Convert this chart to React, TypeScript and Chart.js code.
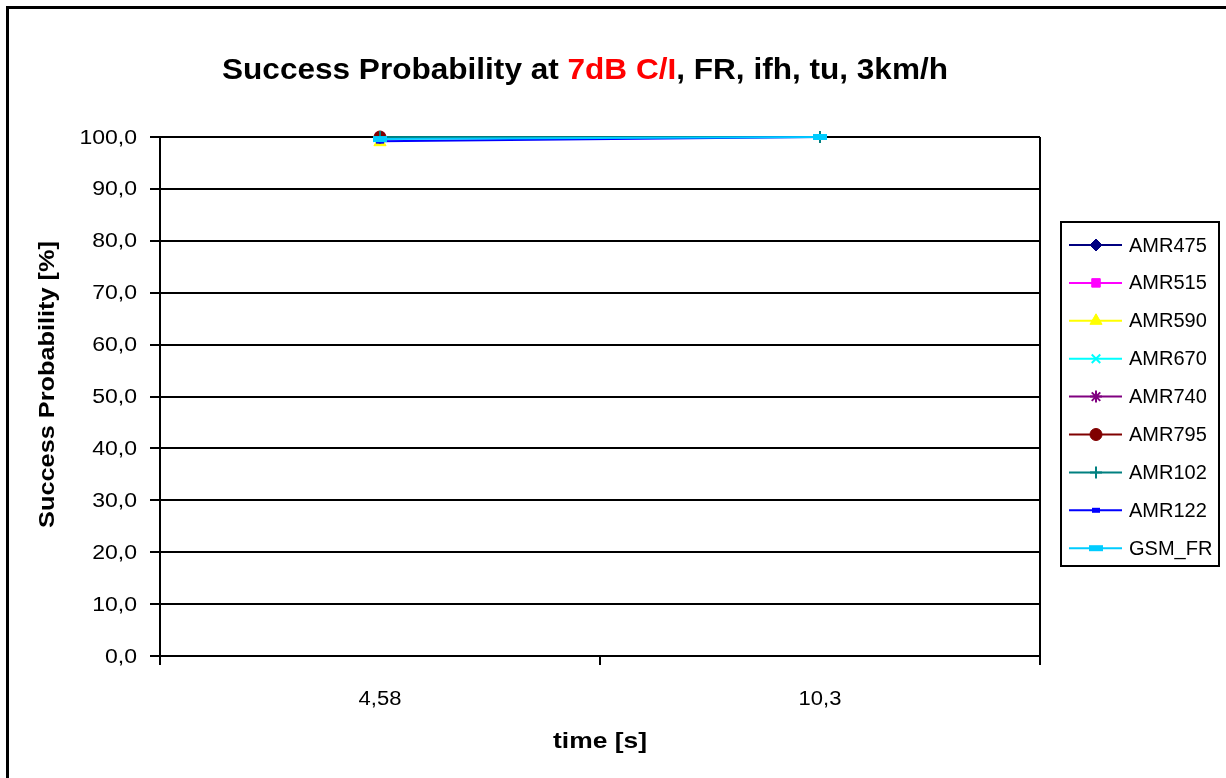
import React, { useEffect, useRef } from "react";
import { Chart, registerables } from "chart.js";
import { drawPoint } from "chart.js/helpers";

Chart.register(...registerables);

const categories = ["4,58", "10,3"];
const seriesNames = ["AMR475", "AMR515", "AMR590", "AMR670", "AMR740", "AMR795", "AMR102", "AMR122", "GSM_FR"];
const amr475 = [100.0, null];
const amr515 = [100.0, null];
const amr590 = [99.0, null];
const amr670 = [99.8, null];
const amr740 = [99.9, null];
const amr795 = [100.0, null];
const amr102 = [100.0, 100.0];
const amr122 = [99.2, 100.0];
const gsmFr = [99.6, 100.0];
const seriesValues = [amr475, amr515, amr590, amr670, amr740, amr795, amr102, amr122, gsmFr];
const yTicks = [0, 10, 20, 30, 40, 50, 60, 70, 80, 90, 100];

const titleParts = [
  { text: "Success Probability at ", color: "#000000" },
  { text: "7dB C/I", color: "#FF0000" },
  { text: ", FR, ifh, tu, 3km/h", color: "#000000" },
];
const yTitle = "Success Probability [%]";
const xTitle = "time [s]";

const styles = [
  { color: "#000080", pointStyle: "rectRot", radius: 6, bw: 1 },
  { color: "#FF00FF", pointStyle: "rect", radius: 6, bw: 1 },
  { color: "#FFFF00", pointStyle: "triangle", radius: 7, bw: 1 },
  { color: "#00FFFF", pointStyle: "crossRot", radius: 6, bw: 2 },
  { color: "#800080", pointStyle: "star", radius: 6, bw: 2 },
  { color: "#800000", pointStyle: "circle", radius: 6, bw: 1 },
  { color: "#008080", pointStyle: "cross", radius: 6, bw: 2 },
  { color: "#0000FF", pointStyle: "line", radius: 4, bw: 5 },
  { color: "#00CCFF", pointStyle: "line", radius: 7, bw: 6 },
];

const FONT = "'Liberation Sans', Arial, sans-serif";

function scaledText(ctx: any, text: string, x: number, y: number, align: string, sx: number) {
  const w = ctx.measureText(text).width * sx;
  let left = x;
  if (align === "center") left = x - w / 2;
  else if (align === "right") left = x - w;
  ctx.save();
  ctx.textAlign = "left";
  ctx.translate(left, y);
  ctx.scale(sx, 1);
  ctx.fillText(text, 0, 0);
  ctx.restore();
}

const decorPlugin = {
  id: "decor",
  beforeDraw(chart: any) {
    const ctx = chart.ctx;
    ctx.save();
    ctx.fillStyle = "#ffffff";
    ctx.fillRect(0, 0, chart.width, chart.height);
    ctx.strokeStyle = "#000000";
    ctx.lineWidth = 3;
    ctx.strokeRect(7.5, 7.5, chart.width + 20, chart.height + 20);
    ctx.restore();
  },
  afterDraw(chart: any) {
    const ctx = chart.ctx;
    const area = chart.chartArea;
    const xs = chart.scales.x;
    const ys = chart.scales.y;
    ctx.save();
    // right border of plot area
    ctx.strokeStyle = "#000000";
    ctx.lineWidth = 2;
    ctx.beginPath();
    ctx.moveTo(area.right, area.top);
    ctx.lineTo(area.right, area.bottom);
    ctx.stroke();

    // tick labels
    ctx.fillStyle = "#000000";
    ctx.font = `20px ${FONT}`;
    ctx.textBaseline = "middle";
    ys.ticks.forEach((t: any) => {
      const label = Number(t.value).toFixed(1).replace(".", ",");
      scaledText(ctx, label, 137, ys.getPixelForValue(t.value) + 1, "right", 1.15);
    });
    categories.forEach((c, i) => {
      scaledText(ctx, c, xs.getPixelForValue(i), 699, "center", 1.1);
    });

    // title with mixed colours
    ctx.font = `bold 30px ${FONT}`;
    ctx.textBaseline = "alphabetic";
    ctx.textAlign = "left";
    const widths = titleParts.map((p) => ctx.measureText(p.text).width);
    const total = widths.reduce((a, b) => a + b, 0);
    const target = 726;
    const sx = target / total;
    ctx.save();
    ctx.translate(585 - target / 2, 79);
    ctx.scale(sx, 1);
    let x = 0;
    titleParts.forEach((p, i) => {
      ctx.fillStyle = p.color;
      ctx.fillText(p.text, x, 0);
      x += widths[i];
    });
    ctx.restore();

    // axis titles
    ctx.fillStyle = "#000000";
    ctx.font = `bold 22px ${FONT}`;
    ctx.textBaseline = "middle";
    scaledText(ctx, xTitle, (area.left + area.right) / 2, 742, "center", 1.2);
    ctx.save();
    ctx.translate(48, (area.top + area.bottom) / 2 - 12);
    ctx.rotate(-Math.PI / 2);
    scaledText(ctx, yTitle, 0, 0, "center", 1.15);
    ctx.restore();

    // legend
    const lx = 1061, ly = 222, lw = 158, lh = 344;
    ctx.strokeStyle = "#000000";
    ctx.lineWidth = 2;
    ctx.strokeRect(lx, ly, lw, lh);
    ctx.font = `20px ${FONT}`;
    ctx.textAlign = "left";
    ctx.textBaseline = "middle";
    seriesNames.forEach((name, i) => {
      const st = styles[i];
      const cy = 245 + i * 37.9;
      ctx.strokeStyle = st.color;
      ctx.lineWidth = 2;
      ctx.beginPath();
      ctx.moveTo(1069, cy);
      ctx.lineTo(1122, cy);
      ctx.stroke();
      ctx.fillStyle = st.color;
      ctx.strokeStyle = st.color;
      ctx.lineWidth = st.bw;
      drawPoint(ctx, { pointStyle: st.pointStyle, radius: st.radius, rotation: 0, borderWidth: st.bw } as any, 1096, cy);
      ctx.fillStyle = "#000000";
      scaledText(ctx, name, 1129, cy + 1, "left", 1.0);
    });
    ctx.restore();
  },
};

export default function App() {
  const ref = useRef<HTMLCanvasElement>(null);
  useEffect(() => {
    if (!ref.current) return;
    const datasets = seriesNames.map((name, i) => {
      const st = styles[i];
      return {
        label: name,
        data: seriesValues[i],
        borderColor: st.color,
        backgroundColor: st.color,
        borderWidth: 2,
        pointStyle: st.pointStyle,
        pointRadius: st.radius,
        pointBorderWidth: st.bw,
        pointBackgroundColor: st.color,
        pointBorderColor: st.color,
        spanGaps: false,
        tension: 0,
        clip: false,
        order: seriesNames.length - 1 - i,
      };
    });
    const chart = new Chart(ref.current, {
      type: "line",
      data: { labels: categories, datasets: datasets as any },
      options: {
        animation: false,
        responsive: false,
        devicePixelRatio: 1,
        layout: { padding: { left: 0, right: 186, top: 137, bottom: 0 } },
        plugins: { legend: { display: false }, title: { display: false }, tooltip: { enabled: false } },
        scales: {
          x: {
            type: "category",
            offset: true,
            grid: { offset: true, drawOnChartArea: false, drawTicks: true, tickLength: 9, color: "#000000", lineWidth: 2 },
            border: { display: true, color: "#000000", width: 2 },
            ticks: { display: false },
            afterFit: (s: any) => { s.height = 122; },
          },
          y: {
            min: 0,
            max: 100,
            afterBuildTicks: (s: any) => { s.ticks = yTicks.map((v) => ({ value: v })); },
            grid: { drawOnChartArea: true, drawTicks: true, tickLength: 10, color: "#000000", lineWidth: 2 },
            border: { display: true, color: "#000000", width: 2 },
            ticks: { display: false },
            afterFit: (s: any) => { s.width = 160; },
          },
        },
      },
      plugins: [decorPlugin],
    });
    return () => chart.destroy();
  }, []);
  return (
    <div style={{ position: "fixed", left: 0, top: 0, width: 1226, height: 778 }}>
      <canvas ref={ref} width={1226} height={778} style={{ width: 1226, height: 778, display: "block" }} />
    </div>
  );
}
